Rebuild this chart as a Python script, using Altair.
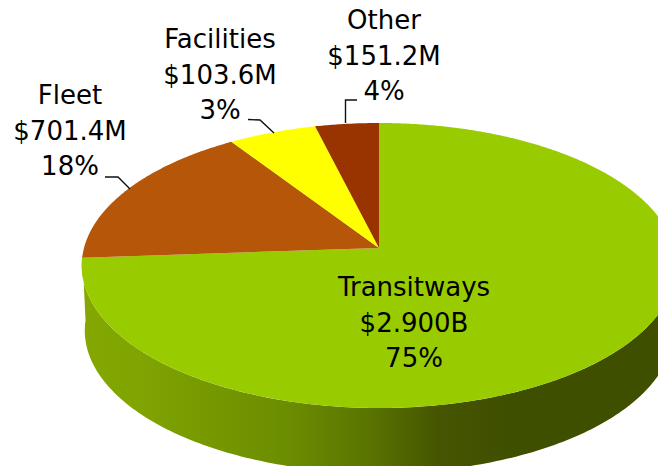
import numpy as np
import pandas as pd
import altair as alt

# Drawn slice shares, clockwise from 12 o'clock
slice_names = ["Transitways", "Fleet", "Facilities", "Other"]
drawn_shares = [73.9, 16.8, 5.4, 3.9]
slice_colors = ["#99CC00", "#B55609", "#FFFF00", "#993300"]

label_lines = [
    ["Fleet", "$701.4M", "18%"],
    ["Facilities", "$103.6M", "3%"],
    ["Other", "$151.2M", "4%"],
    ["Transitways", "$2.900B", "75%"],
]

# Scene geometry, in picture pixels
W, H = 650, 458
APEX_X, APEX_Y = 379.0, 248.0
RX, RY, K = 295.0, 140.35, 0.1228
DEPTH = 65.0
INSET = 3.0
label_cx = [70, 220, 384, 414]
label_cy = [96, 40, 21, 288]
LINE_H = 35.5
leaders = [
    [(105, 177), (118, 177), (130, 189)],
    [(248, 119.5), (260, 120), (274, 133)],
    [(345.5, 123), (345.5, 100), (357, 100)],
]


def rim(deg, depth=0.0, inset=0.0):
    """Perspective view of a disc: deg runs clockwise from 12 o'clock."""
    t = np.radians(np.asarray(deg, dtype=float))
    d = 1 + K * np.cos(t)
    return (
        APEX_X + (RX - inset) * np.sin(t) / d,
        APEX_Y - RY * np.cos(t) / d + depth,
    )


rows = []
start = 0.0
for name, share in zip(slice_names, drawn_shares):
    end = start + share * 3.6
    angles = np.linspace(start, end, max(4, int(share * 8)))
    xs, ys = rim(angles)
    px = [APEX_X] + list(xs) + [APEX_X]
    py = [APEX_Y] + list(ys) + [APEX_Y]
    rows += [{"name": name, "x": a, "y": b, "i": i} for i, (a, b) in enumerate(zip(px, py))]
    start = end
slices = pd.DataFrame(rows)

# Front wall of the disc
front = np.linspace(93, 267, 180)
tx, ty = rim(front)
bx, by = rim(front[::-1], DEPTH, INSET)
wall = pd.DataFrame({
    "x": np.concatenate([tx, bx]),
    "y": np.concatenate([ty, by]),
    "i": np.arange(360),
})

x_scale = alt.Scale(domain=[8, 8 + W], range=[0, W])
y_scale = alt.Scale(domain=[8, 8 + H], range=[0, H])
X = alt.X("x:Q", scale=x_scale, axis=None)
Y = alt.Y("y:Q", scale=y_scale, axis=None)

wall_stops = [
    (0.00, "#84A800"), (0.10, "#80A400"), (0.20, "#779A00"), (0.35, "#6B8C00"),
    (0.48, "#5A7500"), (0.60, "#455500"), (0.72, "#3F4F00"), (1.00, "#3F4F00"),
]
wall_chart = alt.Chart(wall).mark_line(
    filled=True, clip=True,
    fill=alt.Gradient(
        gradient="linear", x1=0, x2=1, y1=0, y2=0,
        stops=[alt.GradientStop(offset=o, color=c) for o, c in wall_stops],
    ),
).encode(x=X, y=Y, order="i:Q")

slice_chart = alt.Chart(slices).mark_line(filled=True, clip=True).encode(
    x=X, y=Y, order="i:Q", detail="name:N",
    color=alt.Color("name:N", scale=alt.Scale(domain=slice_names, range=slice_colors), legend=None),
)

lead = pd.DataFrame([
    {"g": g, "i": i, "x": p[0], "y": p[1]}
    for g, seg in enumerate(leaders) for i, p in enumerate(seg)
])
lead_chart = alt.Chart(lead).mark_line(color="#111111", strokeWidth=1.4).encode(
    x=X, y=Y, order="i:Q", detail="g:N"
)

labels = pd.DataFrame([
    {"t": line, "x": cx, "y": cy + j * LINE_H}
    for lines, cx, cy in zip(label_lines, label_cx, label_cy)
    for j, line in enumerate(lines)
])
text_chart = alt.Chart(labels).mark_text(
    font="DejaVu Sans", fontSize=26, color="#000000", align="center", baseline="middle"
).encode(x=X, y=Y, text="t:N")

chart = (wall_chart + slice_chart + lead_chart + text_chart).properties(
    width=W, height=H, padding=0, autosize=alt.AutoSizeParams(type="none")
).configure_view(stroke=None)

chart.save("out.html", embed_options={"renderer": "svg", "actions": False})
